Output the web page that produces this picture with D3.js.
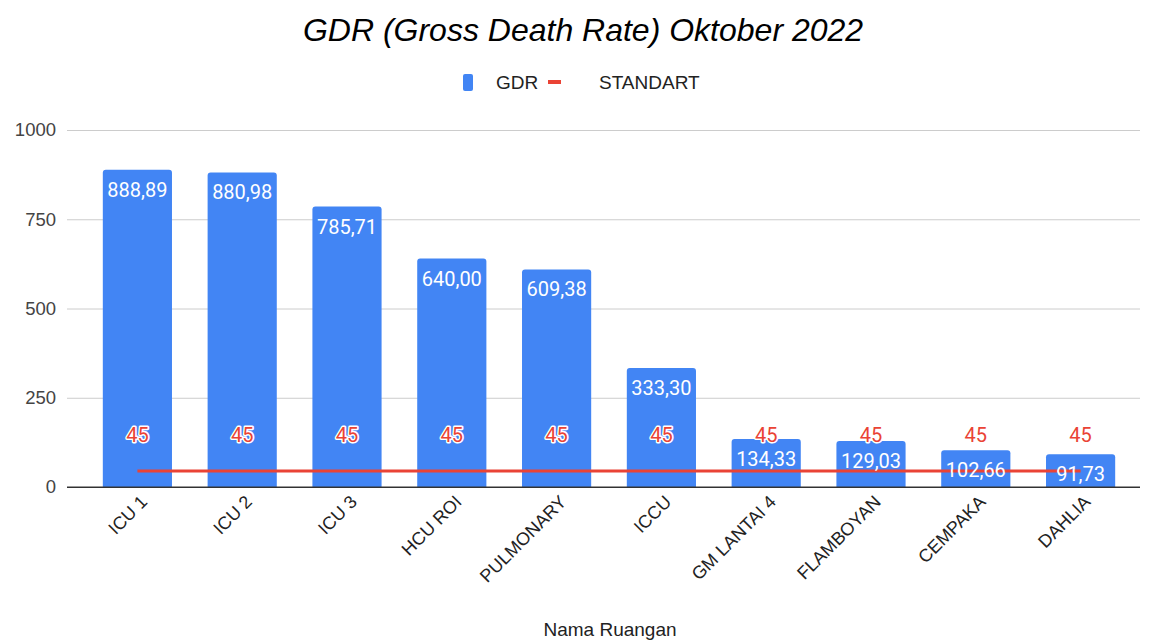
<!DOCTYPE html>
<html>
<head>
<meta charset="utf-8">
<script src="https://cdn.jsdelivr.net/npm/d3@7"></script>
<style>
  body { margin: 0; background: #fff; }
  svg { display: block; }
</style>
</head>
<body>
<div id="chart"></div>
<script>
// data
const rooms = ["ICU 1","ICU 2","ICU 3","HCU ROI","PULMONARY","ICCU","GM LANTAI 4","FLAMBOYAN","CEMPAKA","DAHLIA"];
const gdr = [888.89, 880.98, 785.71, 640.00, 609.38, 333.30, 134.33, 129.03, 102.66, 91.73];
const standart = [45, 45, 45, 45, 45, 45, 45, 45, 45, 45];
const yTicks = [0, 250, 500, 750, 1000];

const W = 1153, H = 642;
const blue = "#4285f4", red = "#ea4335";
const fmt = v => d3.format(".2f")(v).replace(".", ",");

const svg = d3.select("#chart").append("svg")
	.attr("width", W)
	.attr("height", H);

const x = d3.scaleBand()
	.domain(rooms)
	.range([85, 1133])
	.paddingInner(0.34)
	.paddingOuter(0.17);

const y = d3.scaleLinear()
	.domain([0, 1000])
	.range([487, 130]);

// title
svg.append("text")
	.attr("x", 583).attr("y", 41)
	.attr("text-anchor", "middle")
	.style("font", "italic 32px 'Liberation Sans', Arial, sans-serif")
	.attr("fill", "#000")
	.text("GDR (Gross Death Rate) Oktober 2022");

// legend
svg.append("rect")
	.attr("x", 463).attr("y", 74).attr("width", 10).attr("height", 17).attr("rx", 2)
	.attr("fill", blue);
svg.append("text")
	.attr("x", 496).attr("y", 89)
	.style("font", "19px 'Liberation Sans', Arial, sans-serif")
	.attr("fill", "#222").text("GDR");
svg.append("rect")
	.attr("x", 548).attr("y", 80).attr("width", 13).attr("height", 4)
	.attr("fill", red);
svg.append("text")
	.attr("x", 599).attr("y", 89)
	.style("font", "19px 'Liberation Sans', Arial, sans-serif")
	.attr("fill", "#222").text("STANDART");

// y axis + grid
const yAxis = d3.axisLeft(y)
	.tickValues(yTicks)
	.tickSize(-(1140 - 67))
	.tickPadding(11)
	.tickFormat(d3.format("d"));

const ga = svg.append("g")
	.attr("transform", "translate(67,0)")
	.call(yAxis);
ga.select(".domain").remove();
ga.selectAll(".tick line").attr("stroke", d => d === 0 ? "#333" : "#ccc");
ga.selectAll(".tick text")
	.style("font", "18.5px 'Liberation Sans', Arial, sans-serif")
	.attr("fill", "#444");

// bars
svg.append("g").selectAll("path")
	.data(gdr)
	.join("path")
	.attr("fill", blue)
	.attr("d", (d, i) => {
		const x0 = x(rooms[i]), w = x.bandwidth(), yt = y(d), yb = y(0), r = 3;
		return `M${x0},${yb}V${yt + r}Q${x0},${yt} ${x0 + r},${yt}H${x0 + w - r}Q${x0 + w},${yt} ${x0 + w},${yt + r}V${yb}Z`;
	});

// redraw baseline on top of bars
svg.append("line")
	.attr("x1", 67).attr("x2", 1140)
	.attr("y1", y(0)).attr("y2", y(0))
	.attr("stroke", "#333").attr("stroke-width", 1);

// standart line
const line = d3.line()
	.x((d, i) => x(rooms[i]) + x.bandwidth() / 2)
	.y(d => y(d));
svg.append("path")
	.datum(standart)
	.attr("d", line)
	.attr("fill", "none")
	.attr("stroke", red)
	.attr("stroke-width", 3);

// value labels
svg.append("g").selectAll("text")
	.data(gdr)
	.join("text")
	.attr("x", (d, i) => x(rooms[i]) + x.bandwidth() / 2)
	.attr("y", d => y(d) + 27)
	.attr("text-anchor", "middle")
	.style("font", "20px Roboto, sans-serif")
	.attr("fill", "#fff")
	.text(fmt);

// standart labels
svg.append("g").selectAll("text")
	.data(standart)
	.join("text")
	.attr("x", (d, i) => x(rooms[i]) + x.bandwidth() / 2)
	.attr("y", d => y(d) - 29)
	.attr("text-anchor", "middle")
	.style("font", "20px Roboto, sans-serif")
	.attr("fill", red)
	.attr("stroke", "#fff")
	.attr("stroke-width", 3)
	.attr("stroke-linejoin", "round")
	.attr("paint-order", "stroke")
	.text(d => d);

// x labels
svg.append("g").selectAll("text")
	.data(rooms)
	.join("text")
	.attr("transform", d => `translate(${x(d) + x.bandwidth() / 2 + 11},${503}) rotate(-45)`)
	.attr("text-anchor", "end")
	.style("font", "18px 'Liberation Sans', Arial, sans-serif")
	.attr("fill", "#222")
	.text(d => d);

// x axis title
svg.append("text")
	.attr("x", 610).attr("y", 636)
	.attr("text-anchor", "middle")
	.style("font", "19px 'Liberation Sans', Arial, sans-serif")
	.attr("fill", "#222")
	.text("Nama Ruangan");
</script>
</body>
</html>
